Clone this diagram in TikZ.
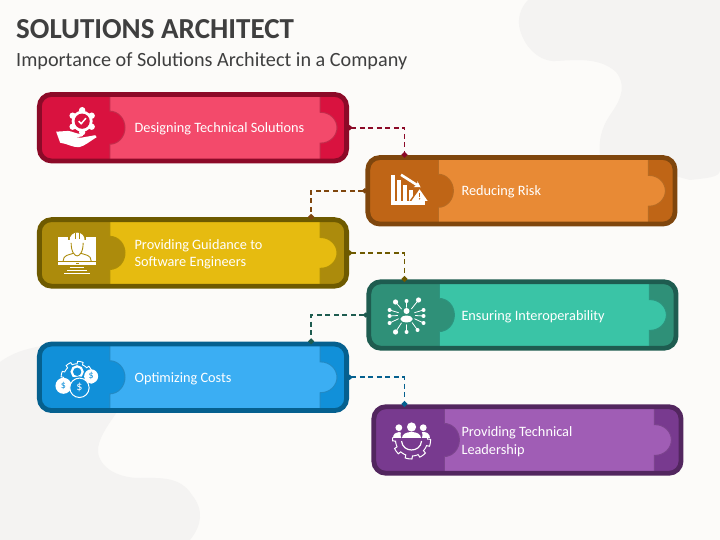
\documentclass[tikz,border=0pt]{standalone}
\usepackage{fontspec}
\setmainfont{Carlito}
\usepackage{tikz}
\usetikzlibrary{
    arrows.meta,
    calc,
    positioning,
}
\definecolor{paper}{HTML}{FCFBF9}
\definecolor{blob}{HTML}{F4F3F2}
\definecolor{inktitle}{HTML}{3F3F3F}
\definecolor{redline}{HTML}{8C0A28}
\definecolor{redtab}{HTML}{D9123F}
\definecolor{redfill}{HTML}{F34A6B}
\definecolor{orangeline}{HTML}{7F460D}
\definecolor{orangetab}{HTML}{BF6516}
\definecolor{orangefill}{HTML}{E88A35}
\definecolor{yellowline}{HTML}{6E5A00}
\definecolor{yellowtab}{HTML}{AC8B0C}
\definecolor{yellowfill}{HTML}{E6BB10}
\definecolor{tealline}{HTML}{1E5C50}
\definecolor{tealtab}{HTML}{2F9078}
\definecolor{tealfill}{HTML}{3AC4A6}
\definecolor{blueline}{HTML}{05608F}
\definecolor{bluetab}{HTML}{1190D9}
\definecolor{bluefill}{HTML}{3BAEF3}
\definecolor{purpleline}{HTML}{52265F}
\definecolor{purpletab}{HTML}{783A8F}
\definecolor{purplefill}{HTML}{A05DB5}
\def\lefttab{(-5,-5) -- (70,-5) -- (70,17.25)
    .. controls (79,17.25) and (85,25) .. (85,33.25)
    .. controls (85,41.5) and (79,49.25) .. (70,49.25)
    -- (70,72) -- (-5,72) -- cycle}
\def\righttab{(5,-5) -- (-26,-5) -- (-26,17.25)
    .. controls (-16,17.25) and (-9,25) .. (-9,33.25)
    .. controls (-9,41.5) and (-16,49.25) .. (-26,49.25)
    -- (-26,72) -- (5,72) -- cycle}
\tikzset{
    pics/gearhand/.style={code={
        \fill[white] (5,-6.5) circle (10.5);
        \foreach \a in {0,60,...,300} \fill[white] ($(5,-6.5)+(\a+30:11)$) circle (3.2);
        \fill[redtab] (5,-6.5) circle (7.6);
        \draw[white, line width=1.5bp] (1.5,-6.5) -- (4,-4) -- (8.8,-9.5);
        \fill[white] (-21,4) -- (-9,3.2) .. controls (-5,3.5) and (-2,6) .. (5,6.5)
            .. controls (7,7) and (6,9) .. (3,9) -- (-2,9.5) -- (4,10) -- (18,7.5) -- (19.5,9.5)
            .. controls (12,14) and (8,18) .. (2,19.5) .. controls (-4,20) and (-10,16) .. (-17,15) -- cycle;
    }},
    pics/chartdrop/.style={code={
        \fill[white] (-15,10) rectangle (19,14.5);
        \foreach \x/\y in {-15/-16, -9/-11, -3/-6, 3/-1} \fill[white] (\x,\y) rectangle (\x+4,14);
        \draw[white, line width=2.6bp, -{Stealth[length=6bp,width=7bp]}] (-4.5,-16) -- (15,-3.5);
        \fill[orangetab] (14,-3.5) -- (24,10) -- (4,10) -- cycle;
        \fill[white] (14,-1.5) -- (22,10) -- (6,10) -- cycle;
        \draw[orangetab, line width=1.3bp] (14,2) -- (14,6);
        \fill[orangetab] (14,8) circle (0.8);
    }},
    pics/hardhat/.style={code={
        \fill[white] (-19.5,-16) rectangle (19,12);
        \fill[yellowtab] (-19.5,8) rectangle (19,8.8);
        \fill[yellowtab] (-1.5,9.8) rectangle (1.5,10.8);
        \fill[yellowtab] (-9,-22) rectangle (9,-12);
        \fill[white] (-7.5,-12) .. controls (-8,-23) and (8,-23) .. (7.5,-12) -- cycle;
        \draw[yellowtab, line width=0.8bp] (-2,-20) -- (-2,-14) (2,-20) -- (2,-14);
        \draw[white, line width=1.4bp] (-10,-12) -- (10,-12);
        \draw[yellowtab, line width=0.9bp] (-6,-10) .. controls (-6,0) and (-2,3) .. (0,3)
            .. controls (2,3) and (6,0) .. (6,-10);
        \draw[yellowtab, line width=0.9bp] (-14,8) .. controls (-14,2) and (-8,2) .. (-4,0.5)
            (14,8) .. controls (14,2) and (8,2) .. (4,0.5);
        \draw[white, line width=1bp] (-7,15) -- (7,15) (-10,18) -- (10,18) (-13,21) -- (13,21);
    }},
    pics/netperson/.style={code={
        \foreach \x/\y/\r in {0/-14/2, -11/-13/2.6, 12/-15/2.6, 17/-5/2, 17/1/2, 17/8/2,
            11/15/2, 0/17/2, -11/17/2.6, -17/8/2, -17/1/2, -17/-5/2} {
            \draw[white, line width=0.8bp] (0,0) -- (\x,\y);
            \fill[white] (\x,\y) circle (\r);
        }
        \fill[tealtab] (0,1) circle (8.5);
        \fill[white] (0,-4) circle (3);
        \fill[white] (0,4) ellipse (6.2 and 3.4);
    }},
    pics/gearcoins/.style={code={
        \draw[white, line width=0.9bp] plot[domain=120:420, samples=181] (\x:{13.5+2.5*(sin(8*\x)>0)});
        \draw[white, line width=2.2bp] (0,-5.5) circle (5.5);
        \fill[bluetab] (2,10.5) circle (11.5);
        \fill[white] (-13.7,8.5) circle (8);
        \fill[white] (14,-1) circle (7);
        \draw[white, fill=bluetab, line width=1bp] (2.3,10.5) circle (9.7);
        \node (coinleft) at (-13.7,8.5) {\fontsize{10bp}{10bp}\selectfont\color{bluetab}\$};
        \node (coinright) at (14,-1) {\fontsize{10bp}{10bp}\selectfont\color{bluetab}\$};
        \node (coinmid) at (2.3,10.5) {\fontsize{12bp}{12bp}\selectfont\color{white}\$};
    }},
    pics/teamgear/.style={code={
        \draw[white, line width=1bp] plot[domain=-8:188, samples=131] (\x:{16+3*(sin(8*\x+22)>0)});
        \draw[white, line width=1.2bp] (-10,1) .. controls (-9,13) and (9,13) .. (10,1);
        \fill[white] (-12.7,-12.3) circle (3.4);
        \fill[white] (11.7,-12.3) circle (3.4);
        \fill[white] (-19,-2) .. controls (-19,-10) and (-7,-10) .. (-7,-2) -- cycle;
        \fill[white] (5,-2) .. controls (5,-10) and (18,-10) .. (18,-2) -- cycle;
        \fill[purpletab] (0,-5) ellipse (11 and 7.5);
        \fill[white] (0,-13) circle (4.6);
        \fill[white] (-9.5,-2) .. controls (-9.5,-10.5) and (9.5,-10.5) .. (9.5,-2) -- cycle;
    }},
}
\begin{document}
\begin{tikzpicture}[
    x=1bp, y=-1bp,
    >=Stealth,
    card body/.style={rounded corners=12bp,
        minimum width=307.2bp, minimum height=66.5bp, inner sep=0pt, outer sep=0pt},
    card text/.style={anchor=west, align=left, text=white, inner sep=0pt,
        font=\fontsize{14.3bp}{17.5bp}\selectfont},
    tab edge/.style={line width=2.2bp, opacity=.45},
    link/.style={line width=1.8bp, dash pattern=on 5bp off 3.5bp,
        {Diamond[length=6bp,width=5.5bp]}-{Circle[length=5.5bp,width=5.5bp]}},
    ]

    % page and soft background shapes
    \fill[paper] (0,0) rectangle (720,540);
    \useasboundingbox (0,0) rectangle (720,540);
    \fill[blob] (528,0) .. controls (520,8) and (517,20) .. (520,30)
        .. controls (525,48) and (540,62) .. (556,61)
        .. controls (575,60) and (600,57) .. (616,72)
        .. controls (626,84) and (622,98) .. (612,112)
        .. controls (604,124) and (598,135) .. (600,156)
        -- (690,180) .. controls (705,178) and (720,178) .. (720,170) -- (720,0) -- cycle;
    \fill[blob] (0,362) .. controls (12,353) and (25,349) .. (42,346)
        -- (117,412) .. controls (108,425) and (97,440) .. (98,452)
        .. controls (100,468) and (118,478) .. (140,478)
        .. controls (160,478) and (180,476) .. (192,495)
        .. controls (204,510) and (202,525) .. (190,540) -- (0,540) -- cycle;

    \node (title) [anchor=west, inner sep=0pt, text=inktitle, font=\fontsize{29bp}{32bp}\selectfont\bfseries]
        at (16,29.5) {SOLUTIONS ARCHITECT};
    \node (subtitle) [anchor=west, inner sep=0pt, text=inktitle, font=\fontsize{20.2bp}{24bp}\selectfont]
        at (16,61) {Importance of Solutions Architect in a Company};

    % cards: body fill, two tabs, then the outline on top
    \foreach \card/\cardline/\cardtab/\cardfill/\cardx/\cardy in {
        cardA/redline/redtab/redfill/193/127.7,
        cardB/orangeline/orangetab/orangefill/521.4/190.8,
        cardC/yellowline/yellowtab/yellowfill/193/252.9,
        cardD/tealline/tealtab/tealfill/522.4/315,
        cardE/blueline/bluetab/bluefill/193/377.3,
        cardF/purpleline/purpletab/purplefill/527.4/440} {
        \node (\card) [card body, fill=\cardfill] at (\cardx,\cardy) {};
        \begin{scope}
            \clip[rounded corners=12bp] (\card.north west) rectangle (\card.south east);
            \begin{scope}[shift={(\card.north west)}]
                \draw[\cardline, tab edge] \lefttab;
                \fill[\cardtab] \lefttab;
            \end{scope}
            \begin{scope}[shift={(\card.north east)}]
                \draw[\cardline, tab edge] \righttab;
                \fill[\cardtab] \righttab;
            \end{scope}
        \end{scope}
        \draw[\cardline, line width=4.8bp, rounded corners=12bp] (\card.north west) rectangle (\card.south east);
    }

    \node (cardAtext) [card text] at ([xshift=95bp,yshift=-1.5bp]cardA.west) {Designing Technical Solutions};
    \node (cardBtext) [card text] at ([xshift=93.5bp,yshift=-1bp]cardB.west) {Reducing Risk};
    \node (cardCtext) [card text] at ([xshift=95bp,yshift=-1.5bp]cardC.west) {Providing Guidance to\\Software Engineers};
    \node (cardDtext) [card text] at ([xshift=92.5bp,yshift=-1.5bp]cardD.west) {Ensuring Interoperability};
    \node (cardEtext) [card text] at ([xshift=95bp,yshift=-1bp]cardE.west) {Optimizing Costs};
    \node (cardFtext) [card text] at ([xshift=87.5bp,yshift=-1.5bp]cardF.west) {Providing Technical\\Leadership};

    \pic at ([xshift=37.75bp]cardA.west) {gearhand};
    \pic at ([xshift=37.75bp]cardB.west) {chartdrop};
    \pic at ([xshift=37.75bp]cardC.west) {hardhat};
    \pic at ([xshift=37.75bp]cardD.west) {netperson};
    \pic at ([xshift=37.75bp]cardE.west) {gearcoins};
    \pic at ([xshift=37.75bp]cardF.west) {teamgear};

    \draw[link, redline] (cardA.east) -| ([xshift=36.75bp]cardB.north west);
    \draw[link, orangeline] (cardB.west) -| ([xshift=271.75bp]cardC.north west);
    \draw[link, yellowline] (cardC.east) -| ([xshift=35.75bp]cardD.north west);
    \draw[link, tealline] (cardD.west) -| ([xshift=271.75bp]cardE.north west);
    \draw[link, blueline] (cardE.east) -| ([xshift=30.75bp]cardF.north west);

\end{tikzpicture}
\end{document}
